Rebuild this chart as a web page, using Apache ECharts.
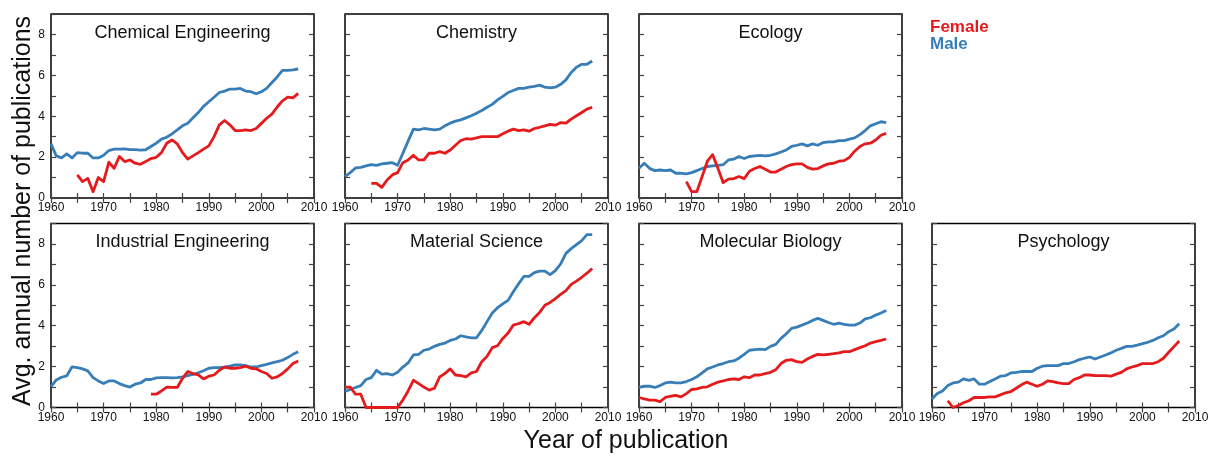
<!DOCTYPE html>
<html>
<head>
<meta charset="utf-8">
<script src="https://cdn.jsdelivr.net/npm/echarts@6/dist/echarts.min.js"></script>
<style>
html,body{margin:0;padding:0;background:#fff;}
#chart{width:1213px;height:457px;}
</style>
</head>
<body>
<div id="chart"></div>
<script>
const years = [1960,1961,1962,1963,1964,1965,1966,1967,1968,1969,
  1970,1971,1972,1973,1974,1975,1976,1977,1978,1979,
  1980,1981,1982,1983,1984,1985,1986,1987,1988,1989,
  1990,1991,1992,1993,1994,1995,1996,1997,1998,1999,
  2000,2001,2002,2003,2004,2005,2006,2007];

const panelNames = ['Chemical Engineering','Chemistry','Ecology','Industrial Engineering','Material Science','Molecular Biology','Psychology'];
const xTickLabels = ['1960','1970','1980','1990','2000','2010'];
const yTickLabels = ['0','2','4','6','8'];
const legendNames = ['Female','Male'];

const chemEngMale = [2.65,2.06,1.96,2.16,1.96,2.22,2.19,2.19,1.96,1.96,
  2.09,2.32,2.39,2.39,2.4,2.37,2.37,2.34,2.36,2.52,
  2.68,2.88,2.97,3.14,3.33,3.53,3.66,3.92,4.18,4.48,
  4.71,4.93,5.16,5.23,5.33,5.33,5.36,5.23,5.2,5.1,
  5.2,5.36,5.65,5.92,6.24,6.24,6.27,6.31];
const chemEngFemale = [null,null,null,null,null,1.13,0.8,0.96,0.31,1.0,
  0.8,1.75,1.45,2.03,1.78,1.86,1.7,1.65,1.78,1.93,
  1.99,2.22,2.68,2.84,2.65,2.22,1.9,2.06,2.22,2.39,
  2.55,3.0,3.58,3.79,3.58,3.3,3.3,3.33,3.3,3.4,
  3.65,3.9,4.1,4.45,4.75,4.93,4.9,5.12];

const chemMale = [1.05,1.24,1.47,1.5,1.57,1.63,1.6,1.67,1.7,1.73,
  1.6,2.19,2.78,3.37,3.33,3.4,3.37,3.33,3.37,3.53,
  3.66,3.76,3.82,3.92,4.02,4.15,4.28,4.44,4.58,4.8,
  4.97,5.16,5.26,5.36,5.36,5.42,5.46,5.52,5.42,5.39,
  5.42,5.56,5.78,6.14,6.4,6.54,6.54,6.7];
const chemFemale = [null,null,null,null,null,0.72,0.72,0.52,0.88,1.13,
  1.24,1.73,1.86,2.09,1.86,1.86,2.19,2.19,2.27,2.19,
  2.35,2.58,2.81,2.9,2.88,2.94,3.0,3.0,3.0,3.0,
  3.14,3.27,3.37,3.3,3.33,3.27,3.4,3.46,3.53,3.6,
  3.56,3.69,3.66,3.86,4.02,4.18,4.35,4.44];

const ecoMale = [1.45,1.7,1.45,1.34,1.37,1.34,1.37,1.21,1.21,1.18,
  1.24,1.34,1.44,1.54,1.57,1.6,1.63,1.86,1.9,2.03,
  1.93,2.03,2.06,2.09,2.06,2.09,2.16,2.25,2.35,2.52,
  2.58,2.65,2.55,2.65,2.58,2.71,2.75,2.75,2.81,2.81,
  2.88,2.94,3.1,3.3,3.53,3.63,3.73,3.69];
const ecoFemale = [null,null,null,null,null,null,null,null,null,0.8,
  0.31,0.31,1.05,1.8,2.12,1.45,0.75,0.92,0.95,1.05,
  0.95,1.31,1.44,1.54,1.41,1.27,1.27,1.41,1.54,1.63,
  1.67,1.67,1.5,1.41,1.44,1.57,1.67,1.7,1.8,1.83,
  1.99,2.29,2.52,2.65,2.68,2.84,3.07,3.17];

const indMale = [1.02,1.35,1.48,1.55,1.99,1.95,1.89,1.79,1.46,1.3,
  1.17,1.3,1.3,1.17,1.07,1.0,1.14,1.2,1.37,1.37,
  1.45,1.46,1.46,1.45,1.46,1.5,1.56,1.62,1.7,1.8,
  1.92,1.95,1.95,1.98,2.02,2.08,2.08,2.05,1.98,1.98,
  2.05,2.11,2.18,2.24,2.31,2.44,2.6,2.73];
const indFemale = [null,null,null,null,null,null,null,null,null,null,
  null,null,null,null,null,null,null,null,null,0.65,
  0.65,0.81,1.0,0.98,0.98,1.43,1.76,1.66,1.59,1.4,
  1.53,1.59,1.82,1.98,1.92,1.92,1.95,2.02,1.92,1.89,
  1.76,1.66,1.43,1.5,1.66,1.89,2.15,2.28];

const matMale = [0.78,0.88,0.98,1.07,1.37,1.46,1.82,1.63,1.66,1.59,
  1.72,1.98,2.18,2.57,2.6,2.8,2.86,2.99,3.09,3.15,
  3.28,3.35,3.51,3.45,3.41,3.41,3.77,4.2,4.62,4.88,
  5.07,5.24,5.66,6.05,6.41,6.41,6.6,6.67,6.67,6.5,
  6.7,7.02,7.54,7.77,7.97,8.16,8.46,8.46];
const matFemale = [1.0,1.0,0.65,0.65,0,0,0,0,0,0,
  0,0.37,0.81,1.33,1.17,1.0,0.85,0.94,1.5,1.66,
  1.89,1.59,1.56,1.5,1.69,1.76,2.24,2.5,2.93,3.02,
  3.38,3.64,4.03,4.1,4.2,4.07,4.39,4.65,5.0,5.14,
  5.33,5.53,5.72,6.02,6.18,6.37,6.57,6.8];

const molMale = [0.98,1.04,1.04,0.98,1.07,1.2,1.24,1.2,1.2,1.27,
  1.37,1.5,1.69,1.89,1.98,2.08,2.15,2.24,2.28,2.41,
  2.6,2.8,2.83,2.86,2.83,2.99,3.09,3.38,3.61,3.87,
  3.93,4.03,4.13,4.26,4.36,4.26,4.16,4.07,4.13,4.07,
  4.03,4.03,4.13,4.33,4.39,4.52,4.62,4.75];
const molFemale = [0.49,0.42,0.36,0.36,0.29,0.49,0.55,0.59,0.52,0.68,
  0.88,0.91,0.98,1.01,1.14,1.24,1.3,1.37,1.4,1.37,
  1.5,1.46,1.59,1.59,1.66,1.72,1.85,2.15,2.31,2.34,
  2.24,2.21,2.37,2.5,2.6,2.57,2.6,2.63,2.67,2.73,
  2.73,2.83,2.93,3.02,3.15,3.22,3.28,3.35];

const psyMale = [0.42,0.68,0.81,1.07,1.2,1.24,1.4,1.33,1.4,1.14,
  1.14,1.27,1.4,1.53,1.56,1.69,1.72,1.76,1.76,1.76,
  1.92,2.02,2.05,2.05,2.05,2.15,2.15,2.24,2.34,2.41,
  2.47,2.37,2.47,2.57,2.67,2.8,2.89,2.99,2.99,3.05,
  3.12,3.19,3.28,3.41,3.51,3.71,3.84,4.1];
const psyFemale = [null,null,null,0.33,0,0.1,0.23,0.33,0.49,0.49,
  0.49,0.52,0.52,0.62,0.72,0.78,0.94,1.11,1.24,1.14,
  1.04,1.14,1.3,1.27,1.2,1.17,1.17,1.37,1.46,1.59,
  1.59,1.56,1.56,1.56,1.53,1.63,1.72,1.89,1.98,2.05,
  2.15,2.15,2.15,2.24,2.41,2.7,2.98,3.25];

const maleSeries = [chemEngMale, chemMale, ecoMale, indMale, matMale, molMale, psyMale];
const femaleSeries = [chemEngFemale, chemFemale, ecoFemale, indFemale, matFemale, molFemale, psyFemale];

const RED = '#e41a1c', BLUE = '#377eb8';
const FONT = '"Liberation Sans", Arial, Helvetica, sans-serif';
const colLefts = [51, 345, 639, 932];
const rowTops = [14, 223.5];
const PW = 263, PH = 184;
const panelPos = [[0,0],[0,1],[0,2],[1,0],[1,1],[1,2],[1,3]];

function pairs(vals){
  const out = [];
  vals.forEach((v,i)=>{ if (v !== null) out.push([years[i], v]); });
  return out;
}

const grids=[], xAxes=[], yAxes=[], series=[], titles=[];
const tickStyle = {inside:true, length:5, lineStyle:{color:'#444', width:1.2}};
panelPos.forEach(([r,c], i) => {
  const left = colLefts[c], top = rowTops[r];
  grids.push({left:left, top:top, width:PW, height:PH, show:true, borderColor:'#000', borderWidth:1.5, containLabel:false});
  xAxes.push({gridIndex:i, type:'value', position:'bottom', min:1960, max:2010, interval:5,
    axisLine:{show:false}, axisTick:tickStyle, splitLine:{show:false},
    axisLabel:{fontSize:12, color:'#111', fontFamily:FONT, margin:4, showMinLabel:true, showMaxLabel:true,
      formatter: v => xTickLabels.indexOf(String(v)) >= 0 ? String(v) : ''}});
  xAxes.push({gridIndex:i, type:'value', position:'top', min:1960, max:2010, interval:5,
    axisLine:{show:false}, axisTick:tickStyle, splitLine:{show:false}, axisLabel:{show:false}});
  yAxes.push({gridIndex:i, type:'value', position:'left', min:0, max:9, interval:1,
    axisLine:{show:false}, axisTick:tickStyle, splitLine:{show:false},
    axisLabel:{show: c===0, fontSize:12, color:'#111', fontFamily:FONT, margin:6,
      formatter: v => yTickLabels.indexOf(String(v)) >= 0 ? String(v) : ''}});
  yAxes.push({gridIndex:i, type:'value', position:'right', min:0, max:9, interval:1,
    axisLine:{show:false}, axisTick:tickStyle, splitLine:{show:false}, axisLabel:{show:false}});
  titles.push({text: panelNames[i], left: left + PW/2, top: top + 10, textAlign:'center', padding:0,
    textStyle:{fontSize:18, fontWeight:'normal', color:'#111', fontFamily:FONT}});
  series.push({name:'Male', type:'line', xAxisIndex:2*i, yAxisIndex:2*i, data:pairs(maleSeries[i]),
    showSymbol:false, symbol:'none', clip:false, color:BLUE, lineStyle:{color:BLUE, width:2.8, join:'round'}});
  series.push({name:'Female', type:'line', xAxisIndex:2*i, yAxisIndex:2*i, data:pairs(femaleSeries[i]),
    showSymbol:false, symbol:'none', clip:false, color:RED, lineStyle:{color:RED, width:2.8, join:'round'}});
});

const chart = echarts.init(document.getElementById('chart'), null, {renderer:'canvas'});
chart.setOption({
  animation:false,
  backgroundColor:'#fff',
  title: titles,
  grid: grids,
  xAxis: xAxes,
  yAxis: yAxes,
  series: series,
  legend: {
    orient:'vertical', left:925, top:19, padding:0, itemGap:0, itemWidth:0, itemHeight:0, icon:'rect',
    selectedMode:false,
    data:[
      {name:legendNames[0], textStyle:{color:RED}},
      {name:legendNames[1], textStyle:{color:BLUE}}
    ],
    textStyle:{fontSize:17, fontWeight:'bold', fontFamily:FONT}
  },
  graphic: [
    {type:'text', x:23, y:211, rotation:Math.PI/2,
      style:{text:'Avg. annual number of publications', fontSize:25, fontFamily:FONT, fill:'#111',
        align:'center', verticalAlign:'middle', textAlign:'center', textVerticalAlign:'middle'}},
    {type:'text', x:626, y:441,
      style:{text:'Year of publication', fontSize:25, fontFamily:FONT, fill:'#111',
        align:'center', verticalAlign:'middle', textAlign:'center', textVerticalAlign:'middle'}}
  ]
});
</script>
</body>
</html>
